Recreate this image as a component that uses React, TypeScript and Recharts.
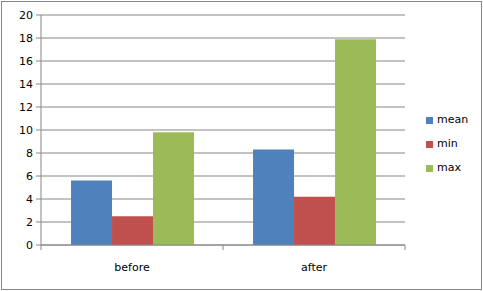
import React from 'react';
import { BarChart, Bar, XAxis, YAxis, CartesianGrid, Legend } from 'recharts';

const categories = ['before', 'after'];
const meanValues = [5.6, 8.3];
const minValues = [2.5, 4.2];
const maxValues = [9.8, 17.9];
const yTicks = [0, 2, 4, 6, 8, 10, 12, 14, 16, 18, 20];
const seriesNames = ['mean', 'min', 'max'];
const seriesColors = ['#4F81BD', '#C0504D', '#9BBB59'];

const data = categories.map((c, i) => ({
  name: c,
  mean: meanValues[i],
  min: minValues[i],
  max: maxValues[i],
}));

const GRID = '#868686';
const FONT = '"DejaVu Sans", Verdana, sans-serif';

const CatTick = (props: any) => {
  const { x, y, payload, index, visibleTicksCount, width } = props;
  const half =
    payload && typeof payload.offset === 'number' && payload.offset > 0
      ? payload.offset
      : width / visibleTicksCount / 2;
  const top = y - 18;
  return (
    <g>
      <line x1={x - half} x2={x - half} y1={top} y2={top + 5} stroke={GRID} />
      {index === visibleTicksCount - 1 ? (
        <line x1={x + half} x2={x + half} y1={top} y2={top + 5} stroke={GRID} />
      ) : null}
      <text x={x} y={y} dy="0.71em" textAnchor="middle" fill="#000" fontSize={11} fontFamily={FONT}>
        {payload.value}
      </text>
    </g>
  );
};

const LegendContent = (props: any) => {
  const payload: any[] = props.payload || [];
  const items = seriesNames.map((n, i) => {
    const p = payload.find((q: any) => q.value === n || q.dataKey === n);
    return { name: n, color: p && p.color ? p.color : seriesColors[i] };
  });
  return (
    <div style={{ position: 'relative', fontFamily: FONT, fontSize: 11, color: '#000' }}>
      {items.map((it: any, i: number) => (
        <div
          key={it.name}
          style={{ position: 'absolute', left: 0, top: i * 24, height: 12, whiteSpace: 'nowrap', lineHeight: '12px' }}
        >
          <span
            style={{ position: 'absolute', left: 0, top: 1, width: 7, height: 7, background: it.color }}
          />
          <span style={{ position: 'absolute', left: 11, top: -2 }}>{it.name}</span>
        </div>
      ))}
    </div>
  );
};

export default function App() {
  return (
    <div style={{ position: 'absolute', left: 0, top: 0, width: 483, height: 291, background: '#fff' }}>
      <div
        style={{
          position: 'absolute',
          left: 1,
          top: 1,
          width: 479,
          height: 287,
          border: `1px solid ${GRID}`,
        }}
      />
      <div style={{ position: 'absolute', left: 0, top: 0 }}>
        <BarChart
          width={483}
          height={291}
          data={data}
          margin={{ top: 15, right: 78, bottom: 0, left: 0 }}
          barCategoryGap="16.5%"
          barGap={0}
          style={{ fontFamily: FONT }}
        >
          <CartesianGrid vertical={false} stroke={GRID} strokeDasharray="" />
          <XAxis
            dataKey="name"
            height={46}
            axisLine={{ stroke: GRID }}
            tickLine={false}
            tickSize={5}
            tickMargin={13}
            interval={0}
            tick={<CatTick />}
          />
          <YAxis
            width={41}
            domain={[0, 20]}
            ticks={yTicks}
            interval={0}
            axisLine={{ stroke: GRID }}
            tickLine={{ stroke: GRID }}
            tickSize={5}
            tickMargin={3}
            tick={{ fill: '#000', fontSize: 11, fontFamily: FONT }}
          />
          <Legend
            layout="vertical"
            align="center"
            verticalAlign="middle"
            wrapperStyle={{ left: 426, top: 116, width: 56, height: 70 }}
            content={<LegendContent />}
          />
          {seriesNames.map((n, i) => (
            <Bar key={n} dataKey={n} name={n} fill={seriesColors[i]} isAnimationActive={false} />
          ))}
        </BarChart>
      </div>
    </div>
  );
}
